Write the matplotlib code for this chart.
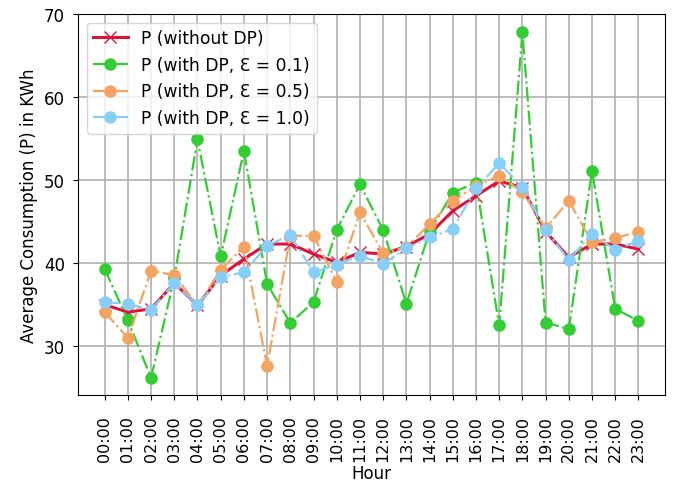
import numpy as np
import matplotlib
matplotlib.use('Agg')
import matplotlib.pyplot as plt

hours = ['%02d:00' % h for h in range(24)]

# average consumption per hour
p_no_dp = [35.0, 34.1, 34.5, 37.6, 34.9, 38.5, 40.5, 42.3, 42.3, 41.1, 40.1, 41.3,
           41.1, 42.0, 43.5, 46.3, 48.1, 49.9, 49.1, 43.8, 40.7, 42.3, 42.3, 41.7]
p_eps_01 = [39.3, 33.1, 26.2, 38.2, 54.9, 40.8, 53.5, 37.5, 32.8, 35.3, 44.0, 49.5,
            44.0, 35.1, 43.8, 48.5, 49.7, 32.5, 67.8, 32.85, 32.05, 51.1, 34.5, 33.05]
p_eps_05 = [34.1, 31.0, 39.1, 38.55, 34.9, 39.2, 42.0, 27.6, 43.3, 43.3, 37.75, 46.1,
            41.2, 41.9, 44.7, 47.5, 49.3, 50.5, 48.6, 44.2, 47.5, 42.5, 43.0, 43.8]
p_eps_10 = [35.3, 35.1, 34.4, 37.6, 34.9, 38.3, 38.9, 42.1, 43.4, 38.9, 39.8, 40.9,
            39.9, 41.8, 43.1, 44.1, 49.0, 52.0, 49.2, 44.0, 40.4, 43.5, 41.6, 42.7]

fig = plt.figure(figsize=(6.78, 4.85), dpi=100)
ax = fig.add_axes([0.115, 0.1835, 0.866, 0.7855])

x = np.arange(len(hours))
ax.plot(x, p_no_dp, '-x', color='crimson', linewidth=2.2, markersize=8, label='P (without DP)')
ax.plot(x, p_eps_01, '-.o', color='limegreen', linewidth=1.6, markersize=8, label='P (with DP, Ɛ = 0.1)')
ax.plot(x, p_eps_05, '-.o', color='sandybrown', linewidth=1.6, markersize=8, label='P (with DP, Ɛ = 0.5)')
ax.plot(x, p_eps_10, '-.o', color='lightskyblue', linewidth=1.6, markersize=8, label='P (with DP, Ɛ = 1.0)')

ax.set_xticks(x)
ax.set_xticklabels(hours, rotation=90)
ax.set_yticks([30, 40, 50, 60, 70])
ax.grid(True, color='#b0b0b0', linewidth=1.2)
ax.set_xlabel('Hour', fontsize=12, labelpad=2)
ax.set_ylabel('Average Consumption (P) in KWh', fontsize=12)
ax.tick_params(axis='x', labelsize=11.5, pad=11)
ax.tick_params(axis='y', labelsize=12, pad=6)
ax.legend(loc='upper left', fontsize=12.3)

fig.savefig('out.png', dpi=100)
